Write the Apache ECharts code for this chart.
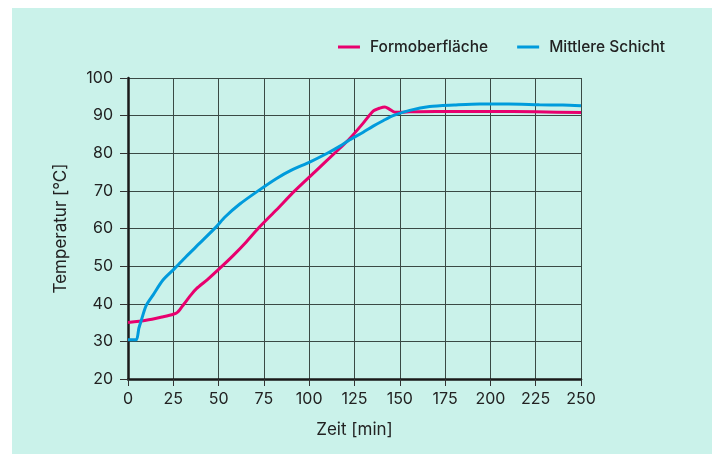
<!DOCTYPE html>
<html>
<head>
<meta charset="utf-8">
<script src="https://cdn.jsdelivr.net/npm/echarts@6/dist/echarts.min.js"></script>
<style>
html,body{margin:0;padding:0;background:#fff;}
#chart{width:715px;height:454px;}
</style>
</head>
<body>
<div id="chart"></div>
<script>
const seriesNames = ['Formoberfläche', 'Mittlere Schicht'];
// [Zeit min, Temperatur °C]
const formoberflaeche = [[0,35],[10,35.6],[19,36.5],[25,37.2],[27.5,37.8],[31,40],[35,42.5],[37.8,44],[44,46.5],[50.6,49.4],[58,52.8],[65,56.3],[71.8,60],[82,65],[92,70],[103,75],[114,80],[118,81.8],[122.4,83.9],[129.8,88],[135.3,91.2],[139,92],[141.8,92.3],[144,91.8],[147.3,90.9],[151,90.9],[155.5,91],[170,91.1],[200,91.1],[225,91],[250,90.8]];
const mittlereSchicht = [[0,30.4],[4.5,30.4],[6,33.5],[7.4,35.7],[10,39.5],[13.8,42.3],[19.3,46.3],[25.8,49.4],[32,52.5],[39.6,56.1],[48.8,60.5],[53.4,63],[61.7,66.5],[71.8,70],[82,73.3],[90.2,75.5],[100,77.6],[110,80],[117,81.9],[122.4,83.6],[129.8,85.6],[135.3,87.2],[141,88.7],[146.3,90],[155.5,91.4],[166.5,92.4],[180,92.8],[194,93.1],[210,93.1],[227,92.9],[240,92.8],[250,92.6]];
const xAxisName = 'Zeit [min]';
const yAxisName = 'Temperatur [°C]';

const chart = echarts.init(document.getElementById('chart'));
const font = 'Inter, "Noto Sans", sans-serif';
chart.setOption({
  backgroundColor: '#ffffff',
  animation: false,
  textStyle: {fontFamily: font},
  graphic: [{type: 'rect', z: -10, silent: true, shape: {x: 12, y: 8, width: 700, height: 446}, style: {fill: '#caf2ea'}}],
  legend: {
    right: 45, top: 34,
    itemWidth: 22, itemHeight: 3, itemGap: 29,
    icon: 'rect',
    textStyle: {fontFamily: font, fontSize: 15.5, fontWeight: 500, color: '#222', padding: [0,0,0,5]},
    data: seriesNames
  },
  grid: {left: 128, right: 134, top: 78, bottom: 75},
  xAxis: {
    type: 'value', min: 0, max: 250, interval: 25,
    name: xAxisName, nameLocation: 'middle', nameGap: 42,
    nameTextStyle: {fontFamily: font, fontSize: 17, color: '#222'},
    axisLine: {show: true, onZero: false, lineStyle: {color: '#1a1a1a', width: 2.5}},
    axisTick: {show: true, length: 7, lineStyle: {color: '#333', width: 1}},
    axisLabel: {fontFamily: font, fontSize: 16, color: '#222', margin: 12},
    splitLine: {show: true, lineStyle: {color: '#3a4a45', width: 1}}
  },
  yAxis: {
    type: 'value', min: 20, max: 100, interval: 10,
    name: yAxisName, nameLocation: 'middle', nameGap: 59,
    nameTextStyle: {fontFamily: font, fontSize: 17, color: '#222'},
    axisLine: {show: true, lineStyle: {color: '#1a1a1a', width: 2.5}},
    axisTick: {show: true, length: 8, lineStyle: {color: '#333', width: 1}},
    axisLabel: {fontFamily: font, fontSize: 16, color: '#222', margin: 15},
    splitLine: {show: true, lineStyle: {color: '#3a4a45', width: 1}}
  },
  series: [
    {name: seriesNames[0], type: 'line', data: formoberflaeche, showSymbol: false, smooth: 0.25,
     lineStyle: {color: '#e8006e', width: 3}, itemStyle: {color: '#e8006e'}, z: 3},
    {name: seriesNames[1], type: 'line', data: mittlereSchicht, showSymbol: false, smooth: 0.25,
     lineStyle: {color: '#009bdc', width: 3}, itemStyle: {color: '#009bdc'}, z: 4}
  ]
});
</script>
</body>
</html>
